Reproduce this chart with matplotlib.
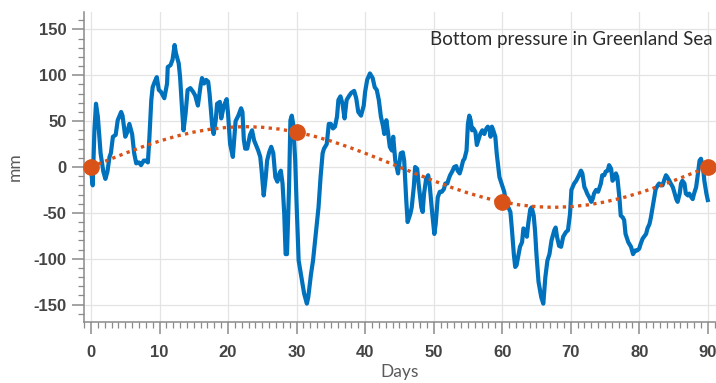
import matplotlib
matplotlib.use("Agg")
import matplotlib.pyplot as plt
from matplotlib.ticker import MultipleLocator

plt.rcParams["axes.unicode_minus"] = False

# bottom pressure record
days = [
    0, 0.25, 0.5, 0.73, 1.0, 1.4, 1.8, 2.1, 2.4, 2.7, 2.9, 3.2, 3.6, 3.9, 4.4, 4.6,
    5.0, 5.3, 5.6, 6.0, 6.3, 6.6, 7.0, 7.3, 7.7, 8.0, 8.3, 8.5, 8.8, 9.0, 9.3, 9.6,
    9.9, 10.2, 10.7, 11.1, 11.2, 11.6, 11.9, 12.2, 12.4, 12.8, 13.0, 13.3, 13.5, 13.8,
    14.1, 14.5, 14.9, 15.2, 15.6, 16.0, 16.2, 16.5, 16.8, 17.1, 17.3, 17.7, 17.9, 18.2,
    18.4, 18.8, 19.0, 19.4, 19.8, 20.0, 20.3, 20.7, 21.1, 21.5, 21.9, 22.1, 22.3, 22.5,
    22.8, 23.2, 23.5, 23.8, 24.4, 24.7, 24.9, 25.2, 25.5, 25.7, 26.0, 26.3, 26.6, 26.9,
    27.2, 27.5, 27.7, 27.95, 28.2, 28.4, 28.6, 28.9, 29.1, 29.3, 29.5, 29.8, 30.0, 30.3,
    30.7, 31.1, 31.5, 31.7, 32.1, 32.4, 32.8, 33.2, 33.5, 33.8, 34.0, 34.4, 34.7, 35.0,
    35.3, 35.6, 35.9, 36.1, 36.4, 36.7, 37.0, 37.3, 37.7, 38.0, 38.4, 38.7, 39.0, 39.4,
    39.8, 40.0, 40.3, 40.7, 41.1, 41.4, 41.7, 42.0, 42.3, 42.6, 42.8, 43.1, 43.3, 43.6,
    43.9, 44.1, 44.4, 44.8, 45.0, 45.2, 45.5, 45.7, 46.0, 46.2, 46.6, 46.8, 47.1, 47.3,
    47.6, 47.8, 48.2, 48.4, 48.6, 48.9, 49.2, 49.4, 49.8, 50.1, 50.3, 50.6, 50.9, 51.2,
    51.5, 51.7, 52.0, 52.2, 52.4, 52.7, 53.0, 53.3, 53.5, 53.8, 54.0, 54.3, 54.5, 54.8,
    55.0, 55.2, 55.4, 55.6, 55.8, 56.1, 56.3, 56.6, 56.8, 57.1, 57.4, 57.7, 57.9, 58.2,
    58.3, 58.5, 58.7, 59.0, 59.2, 59.6, 59.9, 60.3, 60.6, 60.9, 61.2, 61.4, 61.7, 61.9,
    62.1, 62.4, 62.6, 62.9, 63.1, 63.4, 63.6, 63.8, 64.1, 64.3, 64.6, 64.8, 65.0, 65.3,
    65.7, 66.0, 66.3, 66.6, 66.9, 67.2, 67.6, 67.8, 68.0, 68.3, 68.6, 68.9, 69.3, 69.6,
    69.9, 70.1, 70.5, 70.8, 71.2, 71.5, 71.7, 72.0, 72.2, 72.4, 72.7, 73.0, 73.2, 73.4,
    73.7, 74.0, 74.4, 74.6, 74.9, 75.1, 75.4, 75.6, 75.9, 76.1, 76.3, 76.6, 76.8, 77.1,
    77.3, 77.6, 77.8, 78.0, 78.4, 78.8, 79.1, 79.4, 79.7, 80.0, 80.2, 80.5, 80.7, 81.0,
    81.2, 81.5, 81.7, 81.95, 82.2, 82.4, 82.7, 82.9, 83.2, 83.4, 83.7, 83.9, 84.1, 84.4,
    84.6, 84.9, 85.1, 85.4, 85.6, 85.9, 86.1, 86.3, 86.6, 86.8, 87.1, 87.3, 87.6, 87.8,
    88.0, 88.3, 88.5, 88.8, 89.0, 89.3, 89.5, 89.8, 90.0,
]
pressure = [
    -3, -20, 40, 69, 55, 15, -5, -13, -5, 11, 15, 33, 35, 51, 60, 56,
    33, 38, 47, 36, 15, 4, 5, 2, 7, 7, 5, 29, 73, 87, 93, 98,
    84, 82, 75, 91, 109, 111, 117, 133, 124, 113, 98, 62, 40, 58,
    84, 86, 82, 78, 67, 89, 97, 91, 95, 93, 80, 44, 36, 51,
    69, 71, 53, 67, 74, 58, 25, 11, 50, 56, 64, 60, 30, 20,
    20, 35, 40, 29, 18, 11, -4, -31, -11, 7, 16, 22, 15, -11,
    -16, -7, -4, -18, -51, -95, -95, -22, 51, 56, 47, 7, -40, -102,
    -120, -138, -149, -142, -117, -102, -73, -44, -11, 15, 20, 25, 47, 47,
    42, 44, 55, 73, 77, 69, 53, 73, 78, 81, 83, 75, 60, 56,
    67, 82, 95, 102, 97, 87, 84, 73, 55, 45, 36, 51, 40, 22,
    18, 33, 7, -7, 4, 15, 16, 7, -36, -60, -51, -44, -22, 0,
    -2, -18, -44, -49, -29, -13, -9, -18, -51, -73, -62, -33, -27, -27,
    -24, -18, -18, -13, -9, -5, 0, 1, -4, -7, -2, 7, 9, 18,
    47, 56, 51, 40, 42, 38, 24, 31, 36, 40, 36, 42, 44, 40,
    33, 44, 40, 33, 15, -11, -18, -27, -40, -44, -49, -66, -95, -109,
    -107, -95, -87, -82, -67, -69, -76, -62, -46, -44, -53, -70, -95, -125,
    -142, -149, -120, -102, -95, -80, -69, -66, -76, -86, -87, -76, -71, -69,
    -51, -25, -18, -15, -9, -4, -7, -22, -25, -29, -33, -38, -35, -29,
    -25, -27, -18, -9, -9, -5, -4, 2, -2, -15, -13, -7, -11, -33,
    -53, -55, -58, -73, -82, -87, -95, -91, -91, -89, -84, -78, -76, -73,
    -67, -62, -55, -44, -33, -24, -20, -18, -20, -20, -13, -9, -11, -15,
    -18, -22, -27, -35, -38, -29, -18, -15, -18, -29, -31, -29, -33, -35,
    -29, -22, -11, 7, 9, 0, -15, -29, -36,
]

# fitted oscillation (dotted curve)
fit_days = [0, 2.5, 5, 7.5, 10, 12.5, 15, 17.5, 20, 22.5, 25, 27.5, 30, 32.5, 35, 37.5,
            40, 42.5, 45, 47.5, 50, 52.5, 55, 57.5, 60, 62.5, 65, 67.5, 70, 72.5, 75,
            77.5, 80, 82.5, 85, 87.5, 90]
fit_vals = [0, 7.6, 15, 22, 28.3, 33.7, 38.1, 41.3, 43.3, 44, 43.3, 41.3, 38.1, 33.7, 28.3, 22,
            15, 7.6, 0, -7.6, -15, -22, -28.3, -33.7, -38.1, -41.3, -43.3, -44, -43.3, -41.3,
            -38.1, -33.7, -28.3, -22, -15, -7.6, 0]
sample_days = [0, 30, 60, 90]
sample_vals = [0, 38, -38, 0]

BLUE = "#0072BD"
ORANGE = "#D95319"
AXIS_GREY = "#8a8a8a"
LABEL_GREY = "#444444"

fig = plt.figure(figsize=(7.16, 3.83), dpi=100)
ax = fig.add_axes([84 / 716, 1 - 322 / 383, (716 - 84) / 716, (322 - 12) / 383])

ax.plot(days, pressure, color=BLUE, linewidth=3.0, solid_joinstyle="round", zorder=3)
ax.plot(fit_days, fit_vals, color=ORANGE, linewidth=2.4, linestyle=(0, (1, 1.3)), zorder=4)
ax.plot(sample_days, sample_vals, "o", color=ORANGE, markersize=11, zorder=5, clip_on=False)

ax.set_xlim(-1.02, 91.2)
ax.set_ylim(-169, 169)
ax.xaxis.set_major_locator(MultipleLocator(10))
ax.xaxis.set_minor_locator(MultipleLocator(1))
ax.yaxis.set_major_locator(MultipleLocator(50))
ax.yaxis.set_minor_locator(MultipleLocator(10))

ax.grid(True, which="major", color="#e4e4e4", linewidth=0.9)
ax.set_axisbelow(True)
for side in ("top", "right"):
    ax.spines[side].set_visible(False)
for side in ("left", "bottom"):
    ax.spines[side].set_color(AXIS_GREY)
    ax.spines[side].set_linewidth(1.1)

ax.tick_params(which="major", direction="out", length=8.5, width=1.1, color=AXIS_GREY,
               labelsize=12, labelcolor=LABEL_GREY)
ax.tick_params(which="minor", direction="out", length=4.5, width=0.9, color=AXIS_GREY)
ax.tick_params(axis="x", which="major", pad=8)
ax.tick_params(axis="y", which="major", pad=4)
for lab in ax.get_xticklabels() + ax.get_yticklabels():
    lab.set_fontfamily("Liberation Sans")
    lab.set_fontweight("bold")

ax.set_xlabel("Days", fontsize=12.5, color="#5a5a5a", family="Lato", labelpad=3)
ax.set_ylabel("mm", fontsize=12.5, color="#5a5a5a", family="Lato", labelpad=8)

ax.text(0.995, 0.91, "Bottom pressure in Greenland Sea", transform=ax.transAxes,
        ha="right", va="center", fontsize=13.5, color="#2b2b2b", family="Lato")

fig.savefig("out.png", dpi=100)
